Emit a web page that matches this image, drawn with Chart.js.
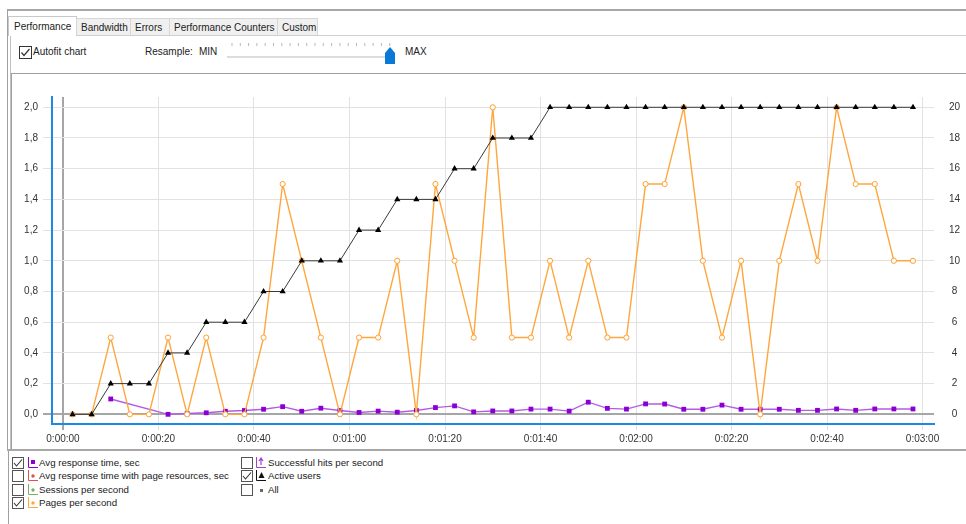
<!DOCTYPE html>
<html>
<head>
<meta charset="utf-8">
<script src="https://cdn.jsdelivr.net/npm/chart.js@4.4.1/dist/chart.umd.min.js"></script>
<style>
  html,body{margin:0;padding:0;background:#fff;}
  body{width:966px;height:524px;position:relative;overflow:hidden;font-family:"Liberation Sans",Arial,sans-serif;font-size:10px;color:#222;}
  .abs{position:absolute;}
  .hl{position:absolute;height:0;border-top:1px solid #a0a0a0;}
  .vl{position:absolute;width:0;border-left:1px solid #a0a0a0;}
  .tab{position:absolute;top:18px;height:17px;background:#f0f0f0;border:1px solid #d6d6d6;border-bottom:none;box-sizing:border-box;line-height:17px;padding-left:4px;white-space:nowrap;font-size:10px;}
  .tab.sel{top:16px;height:20px;background:#fff;border-color:#c8c8c8;line-height:20px;padding-left:5px;}
  .txt{position:absolute;white-space:nowrap;line-height:12px;}
  #chartbox{position:absolute;left:0;top:76px;width:966px;height:373px;}
</style>
</head>
<body>
<!-- outer frame -->
<div class="hl" style="left:7px;top:9px;width:959px;border-top:2px solid #a8a8a8;"></div>
<div class="vl" style="left:7px;top:9px;height:441px;border-left:1px solid #a0a0a0;"></div>
<div class="vl" style="left:10px;top:36px;height:414px;border-left:1px solid #c0c0c0;"></div>
<!-- tabs -->
<div class="hl" style="left:8px;top:35px;width:958px;border-top:1px solid #d0d0d0;"></div>
<div id="tabs"></div>
<!-- toolbar -->
<svg class="abs" style="left:19px;top:46px" width="13" height="13"><rect x="0.5" y="0.5" width="12" height="12" fill="#fff" stroke="#333"/><path d="M2.5 6.5 L5 9.5 L10.5 3" fill="none" stroke="#333" stroke-width="1.2"/></svg>
<div class="txt" style="left:33px;top:46px;">Autofit chart</div>
<div class="txt" style="left:145px;top:46px;">Resample:</div>
<div class="txt" style="left:199px;top:46px;">MIN</div>
<svg class="abs" style="left:226px;top:42px" width="172" height="24">
  <g stroke="#b8b8b8" stroke-width="1" id="tks"></g>
  <rect x="1" y="14" width="166" height="2" fill="#dcdcdc"/>
  <path d="M159 11 L164 5 L169 11 L169 22 L159 22 Z" fill="#0a78d7"/>
</svg>
<div class="txt" style="left:405px;top:46px;">MAX</div>
<!-- chart panel frame -->
<div class="hl" style="left:11px;top:73px;width:955px;border-top:1px solid #a0a0a0;"></div>
<div class="vl" style="left:11px;top:73px;height:376px;border-left:1px solid #a0a0a0;"></div>
<div class="hl" style="left:7px;top:449px;width:959px;border-top:2px solid #a8a8a8;"></div>
<div id="chartbox"><canvas id="c"></canvas></div>
<!-- legend -->
<div class="vl" style="left:8px;top:451px;height:73px;border-left:1px solid #a0a0a0;"></div>
<div id="legend"></div>
<script>
// ---------- data ----------
const timesSec = [2,6,10,14,18,22,26,30,34,38,42,46,50,54,58,62,66,70,74,78,82,86,90,94,98,102,106,110,114,118,122,126,130,134,138,142,146,150,154,158,162,166,170,174,178];
const activeUsers = [0,0,2,2,2,4,4,6,6,6,8,8,10,10,10,12,12,14,14,14,16,16,18,18,18,20,20,20,20,20,20,20,20,20,20,20,20,20,20,20,20,20,20,20,20];
const pagesPerSecond = [0,0,0.5,0,0,0.5,0,0.5,0,0,0.5,1.5,1.0,0.5,0,0.5,0.5,1.0,0,1.5,1.0,0.5,2.0,0.5,0.5,1.0,0.5,1.0,0.5,0.5,1.5,1.5,2.0,1.0,0.5,1.0,0,1.0,1.5,1.0,2.0,1.5,1.5,1.0,1.0];
const avgResponseTime = [null,null,0.1,null,null,0.0,0.005,0.01,0.02,0.025,0.033,0.05,0.02,0.04,0.025,0.012,0.021,0.014,0.025,0.044,0.055,0.016,0.022,0.022,0.034,0.034,0.021,0.079,0.039,0.034,0.068,0.067,0.033,0.033,0.06,0.033,0.033,0.033,0.026,0.026,0.035,0.026,0.035,0.035,0.035];
const xTickValues = [0,20,40,60,80,100,120,140,160,180];
const leftTickValues = [0,0.2,0.4,0.6,0.8,1.0,1.2,1.4,1.6,1.8,2.0];
const rightTickValues = [0,2,4,6,8,10,12,14,16,18,20];
const tabLabels = ["Performance","Bandwidth","Errors","Performance Counters","Custom"];
const legendItems = [
  {label:"Avg response time, sec", checked:true, color:"#8a00d4", mark:"square"},
  {label:"Avg response time with page resources, sec", checked:false, color:"#d9534f", mark:"dot"},
  {label:"Sessions per second", checked:false, color:"#7cae6a", mark:"dot"},
  {label:"Pages per second", checked:true, color:"#ffa63d", mark:"dot"},
  {label:"Successful hits per second", checked:false, color:"#a040d0", mark:"arrow"},
  {label:"Active users", checked:true, color:"#111", mark:"triangle"},
  {label:"All", checked:false, color:"#666", mark:"bullet"}
];

// tabs
(function(){
  const lefts = [8,76,130,169,277], widths = [69,55,40,109,41];
  let h = '';
  tabLabels.forEach((t,i)=>{
    h += '<div class="tab'+(i===0?' sel':'')+'" style="left:'+lefts[i]+'px;width:'+widths[i]+'px;">'+t+'</div>';
  });
  document.getElementById('tabs').innerHTML = h;
})();

// slider ticks
(function(){
  const g = document.getElementById('tks');
  let s = '';
  for (let x = 6; x <= 164; x += 8.3) s += '<line x1="'+x.toFixed(1)+'" y1="1" x2="'+x.toFixed(1)+'" y2="4"/>';
  g.innerHTML = s;
})();

// legend
(function(){
  const L = document.getElementById('legend');
  let html = '';
  legendItems.forEach((it, i) => {
    const col = i < 4 ? 0 : 1;
    const row = i < 4 ? i : i - 4;
    const cx = col === 0 ? 12 : 241;
    const ix = col === 0 ? 27 : 255;
    const tx = col === 0 ? 39 : 268;
    const cy = 457 + row * 13.4;
    html += '<svg class="abs" style="left:'+cx+'px;top:'+cy+'px" width="12" height="12"><rect x="0.5" y="0.5" width="11" height="11" fill="#fff" stroke="#555"/>' +
      (it.checked ? '<path d="M2 6 L4.5 9 L10 2.5" fill="none" stroke="#333" stroke-width="1.1"/>' : '') + '</svg>';
    let icon = '';
    if (it.mark === 'bullet') {
      icon = '<rect x="5" y="5" width="3" height="3" fill="'+it.color+'"/>';
    } else {
      icon = '<path d="M1.5 0 L1.5 10.5 L11 10.5" fill="none" stroke="'+(it.mark==='triangle'?'#111':it.color)+'" stroke-width="1"/>';
      if (it.mark === 'square') icon += '<rect x="4" y="3" width="4" height="4" fill="'+it.color+'"/>';
      if (it.mark === 'dot') icon += '<circle cx="6" cy="6" r="1.7" fill="'+it.color+'"/>';
      if (it.mark === 'triangle') icon += '<path d="M6.5 2 L9.5 8 L3.5 8 Z" fill="#111"/>';
      if (it.mark === 'arrow') icon += '<path d="M6 1 L6 8 M4 4 L6 1 L8 4" fill="none" stroke="'+it.color+'" stroke-width="1.2"/>';
    }
    html += '<svg class="abs" style="left:'+ix+'px;top:'+cy+'px" width="12" height="12">'+icon+'</svg>';
    html += '<div class="txt" style="left:'+tx+'px;top:'+(cy)+'px;font-size:9.7px;">'+it.label+'</div>';
  });
  L.innerHTML = html;
})();

function fmtTime(v){
  const h = Math.floor(v/3600), m = Math.floor((v%3600)/60), s = Math.round(v%60);
  return h + ':' + String(m).padStart(2,'0') + ':' + String(s).padStart(2,'0');
}
const FONT = {family:'"Liberation Sans", Arial, sans-serif', size:10};
const gridCol = ctx => (ctx.tick && ctx.tick.value === 0) ? '#a6a6a6' : '#e2e2e2';
const gridW = ctx => (ctx.tick && ctx.tick.value === 0) ? 2 : 1;

new Chart(document.getElementById('c'), {
  type: 'line',
  data: {
    datasets: [
      {
        label: 'Active users',
        data: timesSec.map((t,i)=>({x:t, y:activeUsers[i]})),
        yAxisID: 'y2',
        borderColor: '#3a3a3a', borderWidth: 1,
        pointStyle: 'triangle', pointRadius: 3.6,
        pointBackgroundColor: '#000', pointBorderColor: '#000', pointBorderWidth: 0,
        tension: 0
      },
      {
        label: 'Pages per second',
        data: timesSec.map((t,i)=>({x:t, y:pagesPerSecond[i]})),
        yAxisID: 'y',
        borderColor: '#ffa63d', borderWidth: 1.4,
        pointStyle: 'circle', pointRadius: 2.6,
        pointBackgroundColor: '#fff', pointBorderColor: '#ff9f2e', pointBorderWidth: 1,
        tension: 0
      },
      {
        label: 'Avg response time, sec',
        data: timesSec.map((t,i)=>({x:t, y:avgResponseTime[i]})),
        yAxisID: 'y',
        spanGaps: true,
        borderColor: '#b55ae6', borderWidth: 1.4,
        pointStyle: 'rect', pointRadius: 3.4,
        pointBackgroundColor: '#8a00d4', pointBorderColor: '#8a00d4', pointBorderWidth: 0,
        tension: 0
      }
    ]
  },
  options: {
    responsive: true, maintainAspectRatio: false, animation: false,
    layout: {padding: {top: 21, left: 0, right: 0, bottom: 0}},
    plugins: {legend: {display:false}, tooltip: {enabled:false}},
    scales: {
      x: {
        type: 'linear', min: -2.3, max: 182.4,
        afterBuildTicks: s => { s.ticks = xTickValues.map(v=>({value:v})); },
        afterFit: s => { s.height = 25; },
        ticks: {callback: v => fmtTime(v), font: FONT, color:'#333', padding: 3, maxRotation: 0, autoSkip:false},
        grid: {color: gridCol, lineWidth: gridW, tickLength: 6, drawOnChartArea: true},
        border: {display: true, color: '#1e88e5', width: 2}
      },
      y: {
        position: 'left', min: -0.063, max: 2.067,
        afterBuildTicks: s => { s.ticks = leftTickValues.map(v=>({value:v})); },
        afterFit: s => { s.width = 52; },
        ticks: {callback: v => v.toFixed(1).replace('.', ','), font: FONT, color:'#333', padding: 5, autoSkip:false},
        grid: {color: gridCol, lineWidth: gridW, tickLength: 9},
        border: {display: true, color: '#1e88e5', width: 2}
      },
      y2: {
        position: 'right', min: -0.63, max: 20.67,
        afterBuildTicks: s => { s.ticks = rightTickValues.map(v=>({value:v})); },
        afterFit: s => { s.width = 32; },
        ticks: {font: FONT, color:'#333', padding: 15, crossAlign: 'center', autoSkip:false},
        grid: {display: false, drawTicks: false},
        border: {display: false}
      }
    }
  }
});
</script>
</body>
</html>
